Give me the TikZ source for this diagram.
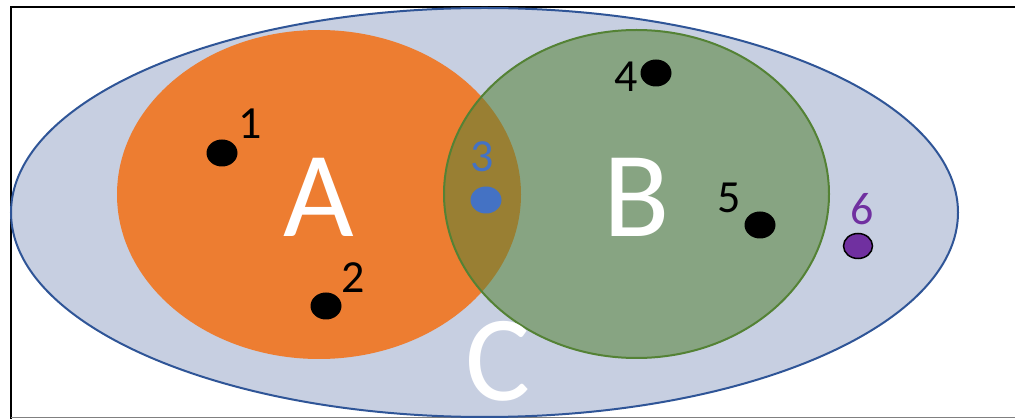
\documentclass[tikz,border=0pt]{standalone}
\usepackage{fontspec}
\setmainfont{Carlito}
\usetikzlibrary{shapes.geometric}

\definecolor{setC}{RGB}{199,207,225}
\definecolor{lineC}{RGB}{47,85,151}
\definecolor{setA}{RGB}{237,125,49}
\definecolor{setB}{RGB}{84,130,53}
\definecolor{dotblue}{RGB}{68,114,196}
\definecolor{dotpurple}{RGB}{112,48,160}

\begin{document}
\begin{tikzpicture}[x=1pt,y=-1pt,
    set/.style={ellipse,inner sep=0pt,outer sep=0pt},
    dot/.style={ellipse,inner sep=0pt,fill=black,minimum width=31pt,minimum height=27pt},
    num/.style={anchor=base,inner sep=0pt,font=\fontsize{46}{50}\selectfont},
    big/.style={anchor=base,inner sep=0pt,text=white,font=\fontsize{122}{130}\selectfont}]
      %\draw[help lines] (0,0) grid[step=50] (1015,419);
      \useasboundingbox (0,0) rectangle (1015,419);

      % frame
      \draw[line width=2pt] (1015,7) -- (11,7) -- (11,419);
      \draw[gray,line width=1pt] (11,418) -- (1015,418);

      % the three sets
      \node[set,draw=lineC,line width=2pt,fill=setC,minimum width=947pt,minimum height=409pt] (setC) at (484.5,212.5) {};
      \node[set,fill=setA,minimum width=404pt,minimum height=329pt] (setA) at (319,194.5) {};
      \node[set,draw=setB,line width=2pt,fill=setB,fill opacity=0.55,minimum width=385pt,minimum height=328pt] (setB) at (636.5,194) {};

      % elements
      \node[dot] (e1) at (222,153) {};
      \node[dot] (e2) at (326,306) {};
      \node[dot,fill=dotblue] (e3) at (486,200) {};
      \node[dot] (e4) at (656,73) {};
      \node[dot] (e5) at (760,225) {};
      \node[dot,fill=dotpurple,draw=black,line width=1.5pt,minimum width=29pt,minimum height=25pt] (e6) at (858,246) {};

      \node[num] (n1) at (250,139) {1};
      \node[num] (n2) at (353,293) {2};
      \node[num,text=dotblue] (n3) at (482.5,172) {3};
      \node[num] (n4) at (626.5,92) {4};
      \node[num] (n5) at (729.5,213) {5};
      \node[num,text=dotpurple] (n6) at (862,225) {6};

      % set names
      \node[big] (nameA) at (319,237) {A};
      \node[big] (nameB) at (637,237) {B};
      \node[big] (nameC) at (498.5,401) {C};
\end{tikzpicture}
\end{document}
